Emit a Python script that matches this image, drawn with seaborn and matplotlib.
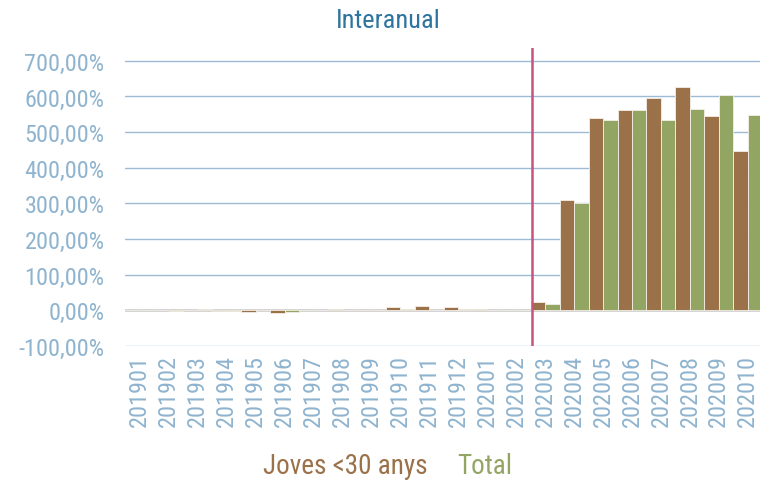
import pandas as pd
import numpy as np
import matplotlib.pyplot as plt
import seaborn as sns
from matplotlib import font_manager
from matplotlib.patches import Patch
from matplotlib.ticker import FuncFormatter

# months (YYYYMM)
months = ["201901", "201902", "201903", "201904", "201905", "201906", "201907",
          "201908", "201909", "201910", "201911", "201912", "202001", "202002",
          "202003", "202004", "202005", "202006", "202007", "202008", "202009",
          "202010"]
# year-on-year change (%)
joves = [1, -0.5, 1.5, -1, -6, -9, 0, 4, 1, 9, 11, 8, 3, 0,
         22, 310, 541, 561, 595, 628, 544, 447]
total = [0, -2, 2, -2, 0, -6, 0, 0, 0, 3, 0, 2, 0.5, 0,
         16, 301, 533, 561, 533, 565, 604, 549]

df = pd.DataFrame({"mes": months * 2,
                   "valor": joves + total,
                   "serie": ["Joves <30 anys"] * len(months) + ["Total"] * len(months)})

c_joves = "#9a7149"
c_total = "#92a562"
tick_col = "#8fb4cf"

sns.set_style("white")

# narrow font if there is one, otherwise condensed DejaVu
names = {f.name for f in font_manager.fontManager.ttflist}
narrow = [n for n in ["Liberation Sans Narrow", "Arial Narrow", "Roboto Condensed",
                      "Open Sans Condensed"] if n in names]
if narrow:
    plt.rcParams['font.family'] = [narrow[0], 'DejaVu Sans']
    fs = 17.5
else:
    plt.rcParams['font.family'] = ['DejaVu Sans']
    plt.rcParams['font.stretch'] = 'condensed'
    fs = 15.5

fig = plt.figure(figsize=(7.6, 4.81), dpi=100)
ax = fig.add_axes([0.165, 0.279, 0.838, 0.619])

sns.barplot(data=df, x="mes", y="valor", hue="serie", palette=[c_joves, c_total],
            width=1.0, saturation=1, edgecolor="#f4efe6", linewidth=0.6, ax=ax,
            legend=False)

ax.set_ylim(-100, 736)
ax.set_xlim(-0.5, len(months) - 0.5)
ax.set_yticks(np.arange(-100, 701, 100))
ax.yaxis.set_major_formatter(FuncFormatter(lambda v, p: f"{v:.2f}%".replace(".", ",")))
for v in np.arange(-100, 701, 100):
    if v == 0:
        ax.axhline(v, color="#c8c8c8", lw=1.8, zorder=0.5)
    else:
        ax.axhline(v, color="#9dbcd3", lw=1, zorder=0.5)
ax.axvline(13.56, color="#c9527f", lw=1.8, zorder=3)

for s in ax.spines.values():
    s.set_visible(False)
ax.tick_params(axis="both", length=0, colors=tick_col, labelsize=fs)
ax.tick_params(axis="y", pad=15)
ax.tick_params(axis="x", pad=6)
plt.setp(ax.get_xticklabels(), rotation=90)
ax.set_xlabel("")
ax.set_ylabel("")

fig.text(0.511, 0.957, "Interanual", ha="center", va="center", fontsize=fs + 1.5,
         color="#2e74a0")

handles = [Patch(visible=False), Patch(visible=False)]
ax.legend(handles, ["Joves <30 anys", "Total"], loc="center", bbox_to_anchor=(0.51, 0.03),
          bbox_transform=fig.transFigure, ncol=2, frameon=False, handlelength=0,
          handletextpad=0, columnspacing=1.1, fontsize=fs + 2,
          labelcolor=[c_joves, c_total])

fig.savefig("out.png", dpi=100)
